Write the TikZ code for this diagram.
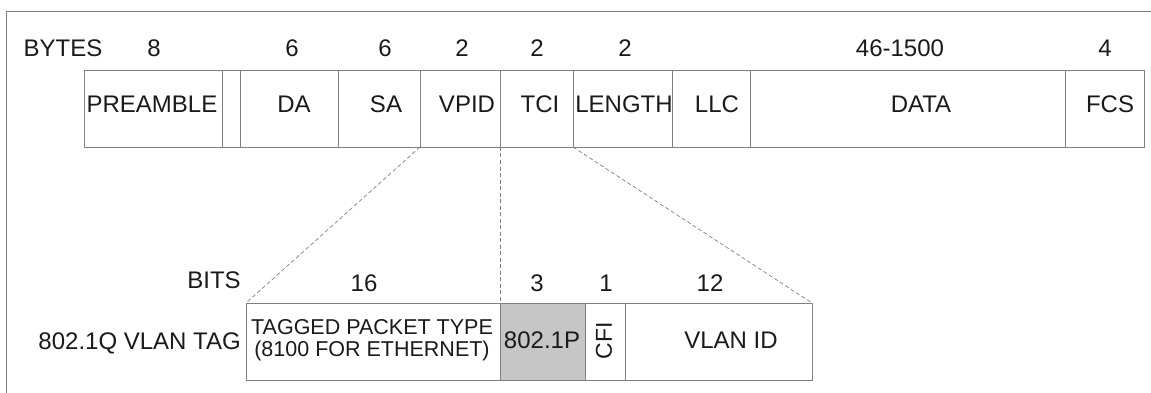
\documentclass[tikz,border=0pt]{standalone}
\usepackage{fontspec}
\setmainfont{Liberation Sans}
\definecolor{rulegray}{HTML}{808080}
\definecolor{inkgray}{HTML}{1A1A1A}
\definecolor{prioshade}{HTML}{C6C6C6}
\tikzset{
  field/.style={draw=rulegray, line width=0.9pt, anchor=north west, minimum height=77pt, inner sep=0pt, outer sep=0pt},
  txt/.style={anchor=base, inner sep=0pt, text=inkgray, font=\fontsize{24}{26}\selectfont},
  zoomline/.style={draw=rulegray, line width=0.7pt, dash pattern=on 4pt off 2.5pt}
}
\begin{document}
\begin{tikzpicture}[x=1pt, y=-1pt]
    \useasboundingbox (0,0) rectangle (1151,393);
    \draw[rulegray, line width=0.9pt] (6,393) -- (6,11) -- (1151,11);

    % ethernet frame
    \node[field, minimum width=138pt] (preamble) at (84,70) {};
    \path (preamble.north east) node[field, minimum width=18pt] (sfd) {};
    \path (sfd.north east) node[field, minimum width=98pt] (da) {};
    \path (da.north east) node[field, minimum width=82pt] (sa) {};
    \path (sa.north east) node[field, minimum width=80pt] (vpid) {};
    \path (vpid.north east) node[field, minimum width=73pt] (tci) {};
    \path (tci.north east) node[field, minimum width=99pt] (length) {};
    \path (length.north east) node[field, minimum width=78pt] (llc) {};
    \path (llc.north east) node[field, minimum width=315pt] (data) {};
    \path (data.north east) node[field, minimum width=79pt] (fcs) {};

    \node[txt] (tpreamble) at (152,113) {PREAMBLE};
    \node[txt] (tda) at (294,113) {DA};
    \node[txt] (tsa) at (386,113) {SA};
    \node[txt] (tvpid) at (467,113) {VPID};
    \node[txt] (ttci) at (540,113) {TCI};
    \node[txt] (tlength) at (624,113) {LENGTH};
    \node[txt] (tllc) at (717,113) {LLC};
    \node[txt] (tdata) at (921,113) {DATA};
    \node[txt] (tfcs) at (1110,113) {FCS};

    % byte counts
    \node[txt] (nbytes) at (63,57) {BYTES};
    \node[txt] (npreamble) at (154,57) {8};
    \node[txt] (nda) at (292,57) {6};
    \node[txt] (nsa) at (385,57) {6};
    \node[txt] (nvpid) at (462,57) {2};
    \node[txt] (ntci) at (537,57) {2};
    \node[txt] (nlength) at (625,57) {2};
    \node[txt] (ndata) at (900,57) {46-1500};
    \node[txt] (nfcs) at (1105,57) {4};

    % vlan tag
    \node[field, minimum width=254pt] (tpid) at (246,303) {};
    \path (tpid.north east) node[field, minimum width=85pt, fill=prioshade] (prio) {};
    \path (prio.north east) node[field, minimum width=40pt] (cfi) {};
    \path (cfi.north east) node[field, minimum width=187pt] (vlanid) {};

    \node[txt, anchor=center, align=center, font=\fontsize{21.5}{22}\selectfont] (ttpid) at (372,340) {TAGGED PACKET TYPE\\(8100 FOR ETHERNET)};
    \node[txt] (tprio) at (542,348) {802.1P};
    \node[txt, anchor=center, rotate=90, font=\fontsize{23}{24}\selectfont] (tcfi) at (604,341) {CFI};
    \node[txt] (tvlanid) at (731,348) {VLAN ID};
    \node[txt, anchor=base east] (ttag) at (241,349) {802.1Q VLAN TAG};

    % bit counts
    \node[txt] (nbits) at (214,288) {BITS};
    \node[txt] (ntpid) at (364,291) {16};
    \node[txt] (nprio) at (537,291) {3};
    \node[txt] (ncfi) at (606,291) {1};
    \node[txt] (nvlanid) at (710,291) {12};

    % zoom lines
    \draw[zoomline] (sa.south east) -- (tpid.north west);
    \draw[zoomline] (vpid.south east) -- (prio.north west);
    \draw[zoomline] (tci.south east) -- (vlanid.north east);
\end{tikzpicture}
\end{document}
